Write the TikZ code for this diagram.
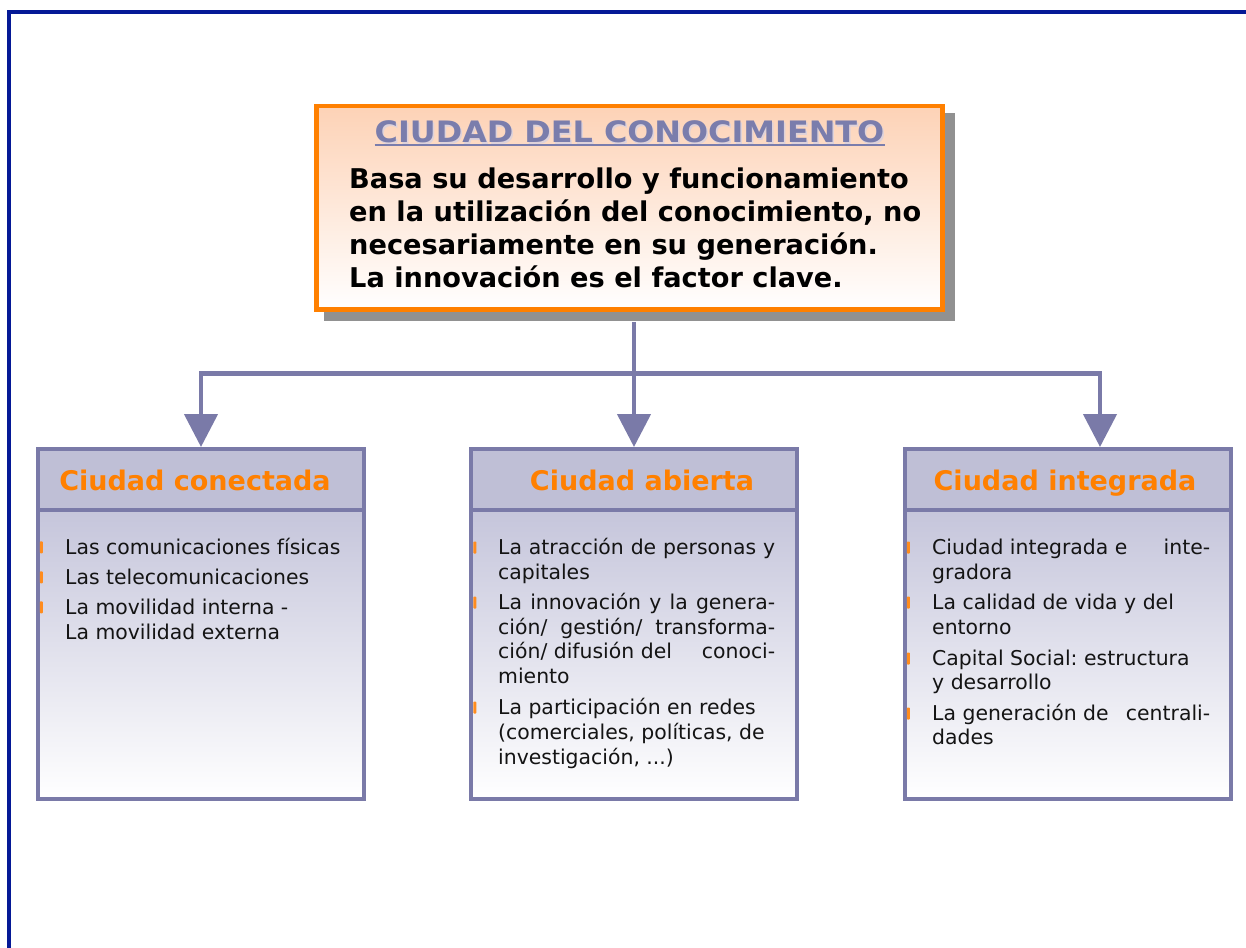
\documentclass[tikz,border=0pt]{standalone}
\usepackage{fontspec}
\setmainfont{DejaVu Sans}
\usetikzlibrary{arrows.meta,calc}
\frenchspacing
\definecolor{navy}{RGB}{5,25,150}
\definecolor{orangeb}{RGB}{255,128,0}
\definecolor{peach}{RGB}{253,210,182}
\definecolor{shadowc}{RGB}{145,145,145}
\definecolor{titlec}{RGB}{122,125,172}
\definecolor{titlesh}{RGB}{222,210,218}
\definecolor{lav}{RGB}{122,122,168}
\definecolor{hdrfill}{RGB}{191,191,214}
\definecolor{bodytop}{RGB}{197,197,219}
\definecolor{hdrtxt}{RGB}{255,128,0}
\definecolor{bulletc}{RGB}{255,140,30}
\begin{document}
\begin{tikzpicture}[x=1pt,y=-1pt,
  conn/.style={draw=lav,line width=4.5pt},
  arr/.style={-{Triangle[width=33pt,length=33pt]}},
  topbox/.style={draw=orangeb,line width=4.5pt,minimum width=626pt,minimum height=203.5pt,inner sep=0pt,top color=peach,bottom color=white},
  boxframe/.style={draw=lav,line width=4pt,minimum width=326pt,minimum height=349.5pt,inner sep=0pt},
  titlestyle/.style={anchor=base,inner sep=0pt,font=\bfseries\fontsize{29.5pt}{34pt}\selectfont},
  tb/.style={anchor=base west,inner sep=0pt,font=\bfseries\fontsize{27.2pt}{32pt}\selectfont},
  hdr/.style={anchor=base,inner sep=0pt,text=hdrtxt,font=\bfseries\fontsize{27pt}{32pt}\selectfont},
  item/.style={anchor=base west,inner sep=0pt,text=black!92,font=\fontsize{20.4pt}{25pt}\selectfont\frenchspacing},
  bul/.style={fill=bulletc,rounded corners=0.8pt}
]
\useasboundingbox (0,0) rectangle (1246,947);
% outer frame
\draw[navy,line width=4pt] (9,960) -- (9,12) -- (1260,12);

% top box
\fill[shadowc] (324,113) rectangle (955,321);
\node[topbox] (top) at (629.5,207.75) {};
\node[titlestyle,text=titlesh] (titleshadow) at (631,144) {\scalebox{1.08}[1]{CIUDAD DEL CONOCIMIENTO}};
\node[titlestyle,text=titlec] (title) at (629.5,142.7) {\scalebox{1.08}[1]{CIUDAD DEL CONOCIMIENTO}};
\draw[titlec,line width=1.6pt] ($(title.base west)+(0,2)$) -- ($(title.base east)+(0,2)$);
\node[tb] (t1) at (349,188.8) {Basa su desarrollo y funcionamiento};
\node[tb] (t2) at (349,221.6) {en la utilización del conocimiento, no};
\node[tb] (t3) at (349,254.4) {necesariamente en su generación.};
\node[tb] (t4) at (349,287.2) {La innovación es el factor clave.};

% three boxes
\foreach \cx/\nm in {201/L,634/M,1067.5/R}{
  \fill[hdrfill] (\cx-163,449) rectangle (\cx+163,509.5);
  \shade[top color=bodytop,bottom color=white] (\cx-163,509.5) rectangle (\cx+163,798.5);
  \node[boxframe] (\nm) at (\cx,623.75) {};
  \draw[lav,line width=4pt] (\cx-163,509.5) -- (\cx+163,509.5);
}
\node[hdr] (Lh) at (195,490.7) {Ciudad conectada};
\node[hdr] (Mh) at (642,490.7) {Ciudad abierta};
\node[hdr] (Rh) at (1065,490.7) {Ciudad integrada};

% connectors
\coordinate (hy) at (0,373.5);
\coordinate (jL) at (L.north |- hy);
\coordinate (jR) at (1100,373.5);
\coordinate (tsh) at ($(top.south)+(0,10)$);
\draw[conn,line cap=rect] (jL) -- (jR);
\draw[conn,arr] (jL) -- (L.north);
\draw[conn,arr] (jR) -- (jR |- R.north);
\draw[conn,arr] (M.north |- tsh) -- (M.north);

% left items
\foreach \b in {554.3,584.3,614.3}{\fill[bul] (39.8,\b-13) rectangle (42.8,\b-1);}
\node[item] (l1) at (65,554.3) {Las comunicaciones físicas};
\node[item] (l2) at (65,584.3) {Las telecomunicaciones};
\node[item] (l3) at (65,614.3) {La movilidad interna -};
\node[item] (l4) at (65,639.3) {La movilidad externa};

% middle items
\foreach \b in {554.5,609.5,714.5}{\fill[bul] (473.3,\b-13) rectangle (476.3,\b-1);}
\node[item] (m1) at (498,554.5) {\makebox[277pt][s]{La atracción de personas y}};
\node[item] (m2) at (498,579.5) {capitales};
\node[item] (m3) at (498,609.5) {\makebox[277pt][s]{La innovación y la genera-}};
\node[item] (m4) at (498,634.5) {\makebox[277pt][s]{ción/ gestión/ transforma-}};
\node[item] (m5) at (498,658.5) {\makebox[277pt][l]{ción/ difusión del\hfill conoci-}};
\node[item] (m6) at (498,683.5) {miento};
\node[item] (m7) at (498,714.5) {La participación en redes};
\node[item] (m8) at (498,739.5) {(comerciales, políticas, de};
\node[item] (m9) at (498,764) {investigación, ...)};

% right items
\foreach \b in {554.5,609.5,665.5,720.5}{\fill[bul] (906.8,\b-13) rectangle (909.8,\b-1);}
\node[item] (r1) at (932,554.5) {\makebox[278pt][l]{Ciudad integrada e\hfill inte-}};
\node[item] (r2) at (932,579.5) {gradora};
\node[item] (r3) at (932,609.5) {La calidad de vida y del};
\node[item] (r4) at (932,634.5) {entorno};
\node[item] (r5) at (932,665.5) {Capital Social: estructura};
\node[item] (r6) at (932,689.5) {y desarrollo};
\node[item] (r7) at (932,720.5) {\makebox[278pt][l]{La generación de\hfill centrali-}};
\node[item] (r8) at (932,744.5) {dades};
\end{tikzpicture}
\end{document}
